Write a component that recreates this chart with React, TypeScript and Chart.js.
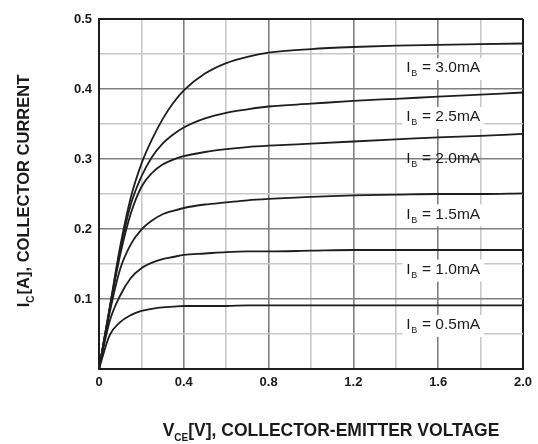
import React, { useEffect, useRef } from "react";
import { Chart, registerables } from "chart.js";

Chart.register(...registerables);

// V_CE sample points [V]
const VCE = [0, 0.05, 0.1, 0.15, 0.2, 0.25, 0.3, 0.35, 0.4, 0.5, 0.6, 0.7, 0.8, 1.0, 1.2, 1.4, 1.6, 1.8, 2.0];

// I_C [A] per base current
const IC_30 = [0, 0.087, 0.175, 0.245, 0.293, 0.328, 0.357, 0.38, 0.398, 0.422, 0.437, 0.446, 0.452, 0.457, 0.46, 0.462, 0.463, 0.464, 0.465];
const IC_25 = [0, 0.086, 0.17, 0.235, 0.275, 0.303, 0.322, 0.335, 0.345, 0.358, 0.366, 0.371, 0.375, 0.379, 0.383, 0.386, 0.389, 0.392, 0.395];
const IC_20 = [0, 0.085, 0.163, 0.222, 0.26, 0.28, 0.292, 0.299, 0.304, 0.31, 0.314, 0.317, 0.319, 0.322, 0.325, 0.328, 0.331, 0.333, 0.336];
const IC_15 = [0, 0.08, 0.143, 0.178, 0.199, 0.212, 0.221, 0.226, 0.23, 0.235, 0.238, 0.241, 0.243, 0.246, 0.248, 0.249, 0.25, 0.25, 0.251];
const IC_10 = [0, 0.068, 0.105, 0.13, 0.144, 0.152, 0.157, 0.16, 0.163, 0.165, 0.167, 0.168, 0.168, 0.169, 0.17, 0.17, 0.17, 0.17, 0.17];
const IC_05 = [0, 0.048, 0.067, 0.077, 0.083, 0.086, 0.088, 0.089, 0.09, 0.09, 0.09, 0.091, 0.091, 0.091, 0.091, 0.091, 0.091, 0.091, 0.091];

const SERIES = [IC_30, IC_25, IC_20, IC_15, IC_10, IC_05];
const SERIES_NAMES = ["3.0mA", "2.5mA", "2.0mA", "1.5mA", "1.0mA", "0.5mA"];

// curve label anchors (data units)
const LABEL_X = 1.45;
const LABEL_Y = [0.43, 0.36, 0.301, 0.221, 0.142, 0.063];
const LABEL_BOX = [true, true, false, true, true, true];

// tick labels
const X_TICKS = ["0", "0.4", "0.8", "1.2", "1.6", "2.0"];
const Y_TICKS = ["0.1", "0.2", "0.3", "0.4", "0.5"];

const FONT = "'Liberation Sans', Arial, sans-serif";

function near(a: number, b: number) {
  return Math.abs(a - b) < 1e-6;
}

const overlayPlugin = {
  id: "overlay",
  afterDatasetsDraw(chart: any) {
    const ctx = chart.ctx;
    const xs = chart.scales.x;
    const ys = chart.scales.y;
    ctx.save();
    SERIES_NAMES.forEach((name, i) => {
      const px = xs.getPixelForValue(LABEL_X);
      const py = ys.getPixelForValue(LABEL_Y[i]);
      const main = `15.5px ${FONT}`;
      const sub = `9px ${FONT}`;
      ctx.font = main;
      const wI = ctx.measureText("I").width;
      ctx.font = sub;
      const wB = ctx.measureText("B").width;
      ctx.font = main;
      const rest = " = " + name;
      const wR = ctx.measureText(rest).width;
      const total = wI + wB + 1 + wR;
      if (LABEL_BOX[i]) {
        ctx.fillStyle = "#ffffff";
        ctx.fillRect(px - 4, py - 10, total + 8, 22);
      }
      ctx.fillStyle = "#1a1a1a";
      ctx.textBaseline = "middle";
      ctx.textAlign = "left";
      ctx.fillText("I", px, py);
      ctx.font = sub;
      ctx.fillText("B", px + wI + 0.5, py + 6);
      ctx.font = main;
      ctx.fillText(rest, px + wI + wB + 1, py);
    });
    ctx.restore();
  },
  afterDraw(chart: any) {
    const ctx = chart.ctx;
    ctx.save();
    ctx.fillStyle = "#1a1a1a";
    ctx.textBaseline = "middle";
    ctx.textAlign = "left";
    // X title
    {
      const big = `bold 17.5px ${FONT}`;
      const small = `bold 10px ${FONT}`;
      const a = "V", sub = "CE", b = "[V], COLLECTOR-EMITTER VOLTAGE";
      ctx.font = big;
      const wa = ctx.measureText(a).width;
      const wb = ctx.measureText(b).width;
      ctx.font = small;
      const ws = ctx.measureText(sub).width;
      const total = wa + ws + wb;
      const cx = 331, cy = 431;
      let x = cx - total / 2;
      ctx.font = big;
      ctx.fillText(a, x, cy);
      x += wa;
      ctx.font = small;
      ctx.fillText(sub, x, cy + 7);
      x += ws;
      ctx.font = big;
      ctx.fillText(b, x, cy);
    }
    // Y title
    {
      const big = `bold 16.5px ${FONT}`;
      const small = `bold 10px ${FONT}`;
      const a = "I", sub = "C", b = "[A], COLLECTOR CURRENT";
      ctx.font = big;
      const wa = ctx.measureText(a).width;
      const wb = ctx.measureText(b).width;
      ctx.font = small;
      const ws = ctx.measureText(sub).width;
      const total = wa + ws + 1 + wb;
      ctx.translate(24, 191);
      ctx.rotate(-Math.PI / 2);
      let x = -total / 2;
      ctx.font = big;
      ctx.fillText(a, x, 0);
      x += wa;
      ctx.font = small;
      ctx.fillText(sub, x, 7);
      x += ws + 1;
      ctx.font = big;
      ctx.fillText(b, x, 0);
    }
    ctx.restore();
  },
};

export default function App() {
  const ref = useRef<HTMLCanvasElement>(null);
  useEffect(() => {
    if (!ref.current) return;
    const chart = new Chart(ref.current, {
      type: "line",
      data: {
        datasets: SERIES.map((s, i) => ({
          label: SERIES_NAMES[i],
          data: VCE.map((x, j) => ({ x, y: s[j] })),
          borderColor: "#1e1e1e",
          borderWidth: 1.8,
          pointRadius: 0,
          fill: false,
          cubicInterpolationMode: "monotone" as const,
        })),
      },
      options: {
        responsive: false,
        animation: false,
        layout: { autoPadding: false, padding: { top: 19, right: 8, left: 0, bottom: 0 } },
        plugins: { legend: { display: false }, tooltip: { enabled: false } },
        scales: {
          x: {
            type: "linear",
            min: 0,
            max: 2.0,
            afterFit: (s: any) => {
              s.height = 75;
            },
            ticks: {
              stepSize: 0.2,
              padding: 6,
              maxRotation: 0,
              autoSkip: false,
              color: "#1a1a1a",
              font: { family: FONT, size: 13, weight: "bold" },
              callback: (v: any) => {
                const idx = Math.round(Number(v) / 0.4);
                return near(Number(v), idx * 0.4) ? X_TICKS[idx] : "";
              },
            },
            grid: {
              drawTicks: false,
              color: (c: any) => {
                const v = c.tick ? c.tick.value : 0;
                if (near(v, 0) || near(v, 2)) return "#1e1e1e";
                return near(v / 0.4, Math.round(v / 0.4)) ? "#808080" : "#c8c8c8";
              },
              lineWidth: (c: any) => {
                const v = c.tick ? c.tick.value : 0;
                return near(v, 0) || near(v, 2) ? 2 : 1.6;
              },
            },
            border: { color: "#1e1e1e", width: 2 },
          },
          y: {
            min: 0,
            max: 0.5,
            afterFit: (s: any) => {
              s.width = 99;
            },
            ticks: {
              stepSize: 0.05,
              padding: 7,
              autoSkip: false,
              color: "#1a1a1a",
              font: { family: FONT, size: 13, weight: "bold" },
              callback: (v: any) => {
                const idx = Math.round(Number(v) / 0.1);
                if (idx === 0) return "";
                return near(Number(v), idx * 0.1) ? Y_TICKS[idx - 1] : "";
              },
            },
            grid: {
              drawTicks: false,
              color: (c: any) => {
                const v = c.tick ? c.tick.value : 0;
                if (near(v, 0) || near(v, 0.5)) return "#1e1e1e";
                return near(v / 0.1, Math.round(v / 0.1)) ? "#808080" : "#c8c8c8";
              },
              lineWidth: (c: any) => {
                const v = c.tick ? c.tick.value : 0;
                return near(v, 0) || near(v, 0.5) ? 2 : 1.6;
              },
            },
            border: { color: "#1e1e1e", width: 2 },
          },
        },
      },
      plugins: [overlayPlugin],
    });
    return () => chart.destroy();
  }, []);
  return (
    <div style={{ position: "fixed", left: 0, top: 0, width: 538, height: 444, background: "#fff" }}>
      <canvas ref={ref} width={538} height={444} style={{ display: "block" }} />
    </div>
  );
}
